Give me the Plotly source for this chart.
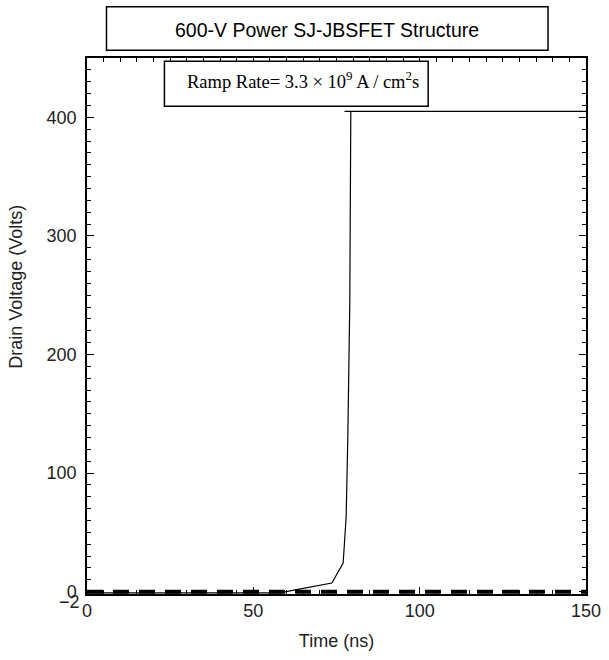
import plotly.graph_objects as go

# Data
time_ns = [0, 58, 63, 73.6, 77.0, 77.9, 78.4, 78.7, 79.0, 79.3, 77.4, 150]
drain_v = [-1, -1, 1.7, 7.3, 24, 63, 130, 198, 245, 405, 405, 405]

ref_time = [0, 150]
ref_v = [0, 0]

x_ticks = [0, 50, 100, 150]
y_ticks = [0, 100, 200, 300, 400]

L, R, T, B = 86.5, 586.0, 57.7, 594.0
PW, PH = R - L, B - T


def px(x):
    return (x - L) / PW


def py(y):
    return (B - y) / PH


fig = go.Figure()
fig.add_trace(go.Scatter(x=ref_time, y=ref_v, mode="lines",
                         line=dict(color="black", width=4, dash="16px,10px"),
                         showlegend=False))
fig.add_trace(go.Scatter(x=time_ns, y=drain_v, mode="lines",
                         line=dict(color="black", width=1.2),
                         showlegend=False))

tickfont = dict(family="Liberation Sans, Arial", size=18, color="#222")
axis_common = dict(showline=True, linecolor="black", linewidth=1.5, mirror="ticks",
                   ticks="inside", ticklen=7, tickwidth=1.2, tickcolor="black",
                   showgrid=False, zeroline=False, automargin=False, tickfont=tickfont)

fig.update_xaxes(range=[0, 150], tickvals=x_ticks, ticktext=[str(v) for v in x_ticks],
                 minor=dict(dtick=5, ticklen=4, tickcolor="black", ticks="inside", tickwidth=1),
                 title=dict(text="Time (ns)", font=tickfont, standoff=14),
                 **axis_common)
fig.update_yaxes(range=[-2, 450], tickvals=y_ticks, ticktext=[str(v) for v in y_ticks],
                 ticklabelstandoff=5,
                 minor=dict(dtick=10, ticklen=4, tickcolor="black", ticks="inside", tickwidth=1),
                 **axis_common)

# y-axis title (placed off-centre, as in the reference)
fig.add_annotation(x=px(17), xref="paper", y=py(287), yref="paper", xshift=-13,
                   text="Drain Voltage (Volts)", showarrow=False, textangle=-90, font=tickfont)

fig.add_annotation(x=0, xref="paper", y=-2, yref="y", text="\u22122", showarrow=False,
                   xanchor="right", yanchor="middle", xshift=-5, yshift=-8,
                   font=tickfont)

fig.add_shape(type="rect", xref="paper", yref="paper", x0=px(106), x1=px(548),
              y0=py(50), y1=py(6.5), line=dict(color="black", width=1.5), fillcolor="white")
fig.add_annotation(x=px(327), xref="paper", y=py(30.5), yref="paper", yshift=14,
                   text="600-V Power SJ-JBSFET Structure", showarrow=False,
                   font=dict(family="Liberation Sans, Arial", size=19.5, color="black"))

fig.add_shape(type="rect", xref="paper", yref="paper", x0=px(164), x1=px(428),
              y0=py(106), y1=py(61), line=dict(color="black", width=1.5), fillcolor="white")
fig.add_annotation(x=px(303), xref="paper", y=py(85), yref="paper", yshift=19,
                   text="Ramp Rate= 3.3 \u00d7 10<sup>9</sup> A / cm<sup>2</sup>s", showarrow=False,
                   font=dict(family="Liberation Serif, Times New Roman", size=18.5, color="black"))

fig.update_layout(width=609, height=660, plot_bgcolor="white", paper_bgcolor="white",
                  margin=dict(l=L, r=609 - R, t=T, b=660 - B, autoexpand=False), showlegend=False)

fig.write_html("out.html", config={"displayModeBar": False},
               post_script="document.body.style.margin='0px';")
